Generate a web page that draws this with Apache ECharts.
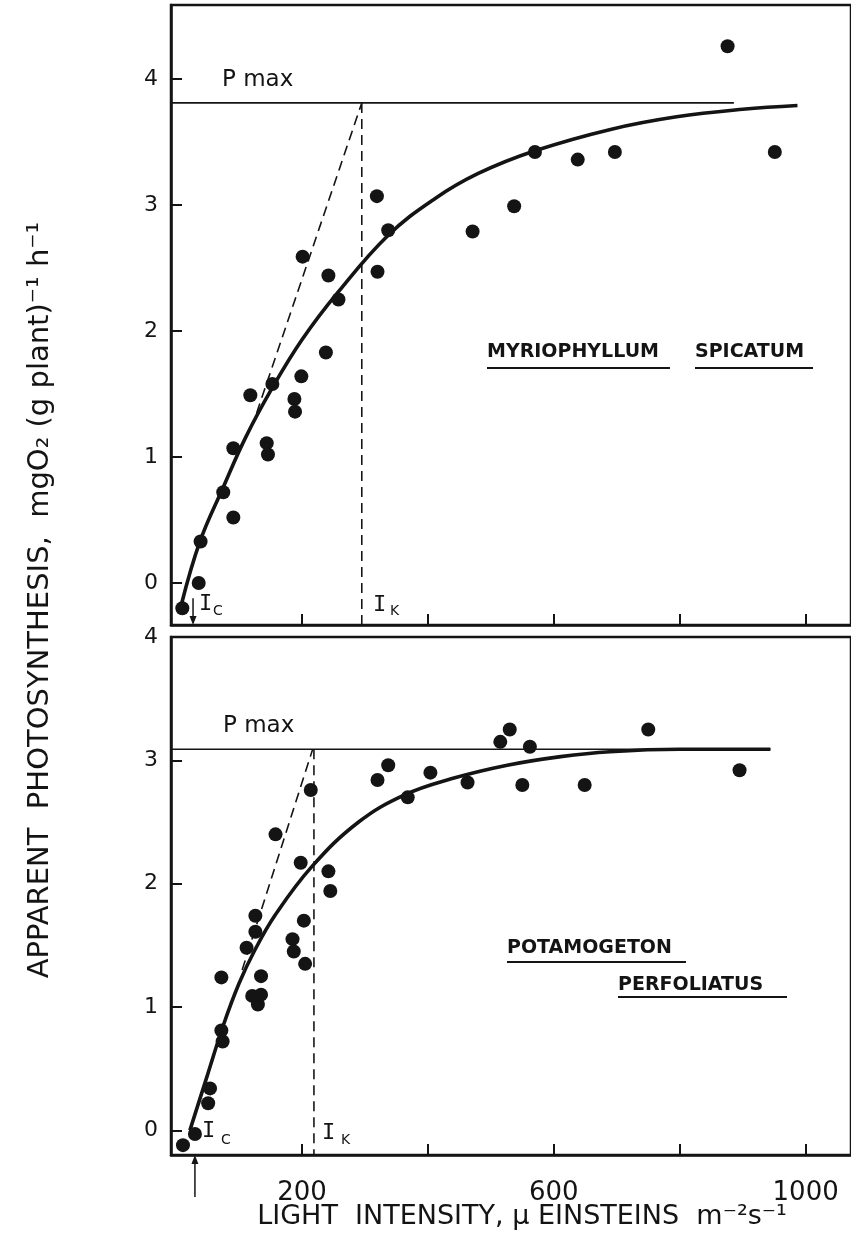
<!DOCTYPE html>
<html>
<head>
<meta charset="utf-8">
<script src="https://cdn.jsdelivr.net/npm/echarts@6/dist/echarts.min.js"></script>
<style>
  html, body { margin: 0; padding: 0; background: #fff; }
  #chart { width: 851px; height: 1253px; }
</style>
</head>
<body>
<div id="chart"></div>
<script>
// ---- Data ----
// Myriophyllum spicatum (upper panel): measured points [light, photosynthesis]
const myrioPoints = [
  [10,-0.20],[36,0.00],[39,0.33],[75,0.72],[91,0.52],[91,1.07],[118,1.49],
  [144,1.11],[146,1.02],[153,1.58],[188,1.46],[189,1.36],[199,1.64],[201,2.59],
  [238,1.83],[242,2.44],[258,2.25],[319,3.07],[320,2.47],[337,2.80],[471,2.79],
  [537,2.99],[570,3.42],[638,3.36],[697,3.42],[876,4.26],[951,3.42]
];
// fitted curve
const myrioCurve = [
  [8,-0.18],[38,0.33],[75,0.76],[110,1.15],[153,1.55],[200,1.93],[256,2.30],
  [337,2.76],[411,3.05],[480,3.25],[570,3.43],[690,3.60],[795,3.70],[900,3.76],
  [987,3.79]
];
const myrioPmax = 3.81, myrioPmaxEnd = 886;
const myrioIk = 295;
const myrioSlope = [[128,1.35],[295,3.81]];
const myrioIcArrow = [[27, -0.12, -0.333]];   // [x, from, to]

// Potamogeton perfoliatus (lower panel)
const potaPoints = [
  [11,-0.12],[30,-0.03],[51,0.22],[54,0.34],[72,0.81],[74,0.72],[72,1.24],
  [112,1.48],[121,1.09],[126,1.61],[126,1.74],[130,1.02],[135,1.10],[135,1.25],
  [158,2.40],[185,1.55],[187,1.45],[198,2.17],[203,1.70],[205,1.35],[214,2.76],
  [242,2.10],[245,1.94],[320,2.84],[337,2.96],[368,2.70],[404,2.90],[463,2.82],
  [515,3.15],[530,3.25],[550,2.80],[562,3.11],[649,2.80],[750,3.25],[895,2.92]
];
const potaCurve = [
  [22,0.00],[50,0.45],[75,0.85],[100,1.19],[125,1.46],[158,1.75],[216,2.14],
  [290,2.50],[363,2.72],[437,2.85],[526,2.96],[611,3.03],[689,3.07],[800,3.09],
  [944,3.09]
];
const potaPmax = 3.09, potaPmaxEnd = 944;
const potaIk = 219;
const potaSlope = [[105,1.30],[217,3.09]];
const potaIcArrow = [[30, -0.54, -0.2]];

// axes
const xTicks = [200, 400, 600, 800, 1000];
const xLabels = [200, 600, 1000];
const yTicks = [0, 1, 2, 3, 4];
const xMin = -8, xMax = 1072;
const topYMin = -0.333, topYMax = 4.587;
const botYMin = -0.2, botYMax = 4;

// ---- Chart ----
const INK = '#141414';
const chart = echarts.init(document.getElementById('chart'), null, { renderer: 'canvas' });

function xAxisFor(gridIndex, showLabels) {
  return {
    type: 'value', gridIndex, min: xMin, max: xMax,
    axisLine: { show: true, onZero: false, lineStyle: { color: INK, width: 2.5 } },
    axisTick: { show: true, inside: true, length: 11, customValues: xTicks, lineStyle: { color: INK, width: 2 } },
    axisLabel: showLabels ? { show: true, customValues: xLabels, margin: 25, color: INK,
      fontFamily: 'DejaVu Sans', fontSize: 26, formatter: v => String(v) } : { show: false },
    splitLine: { show: false }
  };
}
function yAxisFor(gridIndex, min, max) {
  return {
    type: 'value', gridIndex, min, max,
    axisLine: { show: true, onZero: false, lineStyle: { color: INK, width: 2.5 } },
    axisTick: { show: true, inside: true, length: 11, customValues: yTicks, lineStyle: { color: INK, width: 2 } },
    axisLabel: { show: true, customValues: yTicks, margin: 13, color: INK,
      fontFamily: 'DejaVu Sans', fontSize: 22, formatter: v => String(v) },
    splitLine: { show: false }
  };
}
function arrowItem(params, api) {
  const p1 = api.coord([api.value(0), api.value(1)]);
  const p2 = api.coord([api.value(0), api.value(2)]);
  const dir = p2[1] > p1[1] ? 1 : -1;
  const h = 9, w = 3.5;
  return { type: 'group', children: [
    { type: 'line', shape: { x1: p1[0], y1: p1[1], x2: p2[0], y2: p2[1] - dir * h * 0.6 },
      style: { stroke: INK, lineWidth: 1.5 } },
    { type: 'polygon', shape: { points: [[p2[0], p2[1]], [p2[0] - w, p2[1] - dir * h], [p2[0] + w, p2[1] - dir * h]] },
      style: { fill: INK } }
  ] };
}
function panelSeries(idx, points, curve, pmax, pmaxEnd, ik, slope, yMin, icArrow) {
  const dash = { color: INK, width: 1.6, type: [10, 6] };
  return [
    { type: 'line', xAxisIndex: idx, yAxisIndex: idx, data: curve, smooth: 0.4,
      showSymbol: false, lineStyle: { color: INK, width: 3.6 }, z: 3, silent: true },
    { type: 'line', xAxisIndex: idx, yAxisIndex: idx, data: [[xMin, pmax], [pmaxEnd, pmax]],
      showSymbol: false, lineStyle: { color: INK, width: 1.6 }, z: 2, silent: true },
    { type: 'line', xAxisIndex: idx, yAxisIndex: idx, data: slope,
      showSymbol: false, lineStyle: dash, z: 2, silent: true },
    { type: 'line', xAxisIndex: idx, yAxisIndex: idx, data: [[ik, pmax], [ik, yMin]],
      showSymbol: false, lineStyle: dash, z: 2, silent: true },
    { type: 'custom', xAxisIndex: idx, yAxisIndex: idx, data: icArrow, renderItem: arrowItem,
      clip: false, silent: true, z: 2 },
    { type: 'scatter', xAxisIndex: idx, yAxisIndex: idx, data: points, symbol: 'circle',
      symbolSize: 14, itemStyle: { color: INK, opacity: 1 }, z: 4, silent: true }
  ];
}

const gridCommon = { left: 171, right: -14, show: true, borderColor: INK, borderWidth: 2.5, containLabel: false };

function t(text, x, y, size, opts) {
  opts = opts || {};
  return { type: 'text', x: x, y: y, rotation: opts.rotation || 0, silent: true, z: 10,
    style: { text, fill: INK, font: (opts.weight || 'normal') + ' ' + size + 'px ' + (opts.family || '"DejaVu Sans"'),
      textAlign: opts.align || 'left', textVerticalAlign: 'middle' } };
}
function uline(x1, x2, y) {
  return { type: 'line', silent: true, z: 10, shape: { x1, y1: y, x2, y2: y }, style: { stroke: INK, lineWidth: 2.2 } };
}

chart.setOption({
  backgroundColor: '#ffffff',
  animation: false,
  grid: [
    Object.assign({ top: 5, height: 620 }, gridCommon),
    Object.assign({ top: 637, height: 518 }, gridCommon)
  ],
  xAxis: [xAxisFor(0, false), xAxisFor(1, true)],
  yAxis: [yAxisFor(0, topYMin, topYMax), yAxisFor(1, botYMin, botYMax)],
  series: [].concat(
    panelSeries(0, myrioPoints, myrioCurve, myrioPmax, myrioPmaxEnd, myrioIk, myrioSlope, topYMin, myrioIcArrow),
    panelSeries(1, potaPoints, potaCurve, potaPmax, potaPmaxEnd, potaIk, potaSlope, botYMin, potaIcArrow)
  ),
  graphic: [
    // P max labels
    t('P max', 222, 80, 23),
    t('P max', 223, 726, 23),
    // Ic / Ik labels
    t('I', 199, 604, 22, { family: '"DejaVu Sans Mono"' }), t('C', 213, 611, 14),
    t('I', 373, 605, 22, { family: '"DejaVu Sans Mono"' }), t('K', 390, 611, 14),
    t('I', 202, 1131, 22, { family: '"DejaVu Sans Mono"' }), t('C', 221, 1140, 14),
    t('I', 322, 1133, 22, { family: '"DejaVu Sans Mono"' }), t('K', 341, 1140, 14),
    // species names
    t('MYRIOPHYLLUM', 487, 352, 19, { weight: 'bold' }), uline(487, 670, 368),
    t('SPICATUM', 695, 352, 19, { weight: 'bold' }), uline(695, 813, 368),
    t('POTAMOGETON', 507, 948, 19, { weight: 'bold' }), uline(507, 686, 962),
    t('PERFOLIATUS', 618, 985, 19, { weight: 'bold' }), uline(618, 787, 997),
    // axis titles
    t('APPARENT  PHOTOSYNTHESIS,  mgO\u2082 (g plant)\u207B\u00B9 h\u207B\u00B9', 40, 600, 29,
      { align: 'center', rotation: Math.PI / 2 }),
    t('LIGHT  INTENSITY, \u03BC EINSTEINS  m\u207B\u00B2s\u207B\u00B9', 522, 1217, 27, { align: 'center' })
  ]
});
</script>
</body>
</html>
